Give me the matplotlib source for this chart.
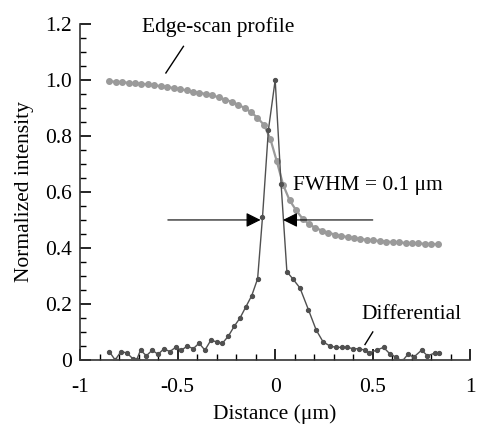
import matplotlib
matplotlib.use('Agg')
import matplotlib.pyplot as plt
from matplotlib.ticker import MultipleLocator

# Edge-scan profile (light gray)
edge_x = [-0.85, -0.817, -0.784, -0.751, -0.718, -0.685, -0.652, -0.619, -0.586, -0.553,
          -0.52, -0.487, -0.454, -0.421, -0.388, -0.355, -0.322, -0.289, -0.256, -0.223,
          -0.19, -0.157, -0.124, -0.091, -0.058, -0.025, 0.008, 0.041, 0.074, 0.107,
          0.14, 0.173, 0.206, 0.239, 0.272, 0.305, 0.338, 0.371, 0.404, 0.437,
          0.47, 0.503, 0.536, 0.569, 0.602, 0.635, 0.668, 0.701, 0.734, 0.767,
          0.8, 0.833]
edge_y = [0.995, 0.994, 0.992, 0.99, 0.988, 0.986, 0.984, 0.981, 0.978, 0.975,
          0.971, 0.967, 0.963, 0.958, 0.954, 0.95, 0.945, 0.938, 0.93, 0.922,
          0.912, 0.9, 0.885, 0.865, 0.84, 0.79, 0.71, 0.625, 0.57, 0.535,
          0.505, 0.485, 0.472, 0.462, 0.455, 0.448, 0.443, 0.439, 0.435, 0.432,
          0.429, 0.427, 0.425, 0.423, 0.421, 0.42, 0.418, 0.417, 0.416, 0.415,
          0.414, 0.413]

# Differential (dark gray)
diff_x = [-0.85, -0.82, -0.79, -0.76, -0.73, -0.71, -0.69, -0.66, -0.63, -0.6,
          -0.57, -0.54, -0.51, -0.48, -0.45, -0.42, -0.39, -0.36, -0.33, -0.3,
          -0.27, -0.24, -0.21, -0.18, -0.15, -0.12, -0.09, -0.065, -0.035, 0.0,
          0.03, 0.06, 0.09, 0.127, 0.17, 0.21, 0.245, 0.28, 0.31, 0.34,
          0.37, 0.4, 0.43, 0.46, 0.48, 0.52, 0.555, 0.59, 0.62, 0.65,
          0.68, 0.71, 0.75, 0.78, 0.82, 0.84]
diff_y = [0.03, 0.0, 0.03, 0.025, 0.005, 0.0, 0.035, 0.015, 0.035, 0.02,
          0.04, 0.03, 0.045, 0.035, 0.05, 0.04, 0.06, 0.035, 0.07, 0.065,
          0.06, 0.085, 0.12, 0.15, 0.19, 0.23, 0.29, 0.51, 0.82, 1.0,
          0.63, 0.315, 0.29, 0.257, 0.18, 0.107, 0.065, 0.05, 0.045, 0.045,
          0.045, 0.04, 0.04, 0.035, 0.025, 0.035, 0.045, 0.02, 0.01, -0.005,
          0.02, 0.01, 0.035, 0.015, 0.025, 0.025]

x_ticks = [-1, -0.5, 0, 0.5, 1]
x_labels = ['-1', '-0.5', '0', '0.5', '1']
y_ticks = [0, 0.2, 0.4, 0.6, 0.8, 1.0, 1.2]
y_labels = ['0', '0.2', '0.4', '0.6', '0.8', '1.0', '1.2']

plt.rcParams['font.family'] = ['Liberation Serif', 'DejaVu Serif']
fs = 15.5

fig = plt.figure(figsize=(4.79, 4.28), dpi=100)
ax = fig.add_axes([0.167, 0.159, 0.815, 0.785])

ax.plot(edge_x, edge_y, color='#9a9a9a', lw=1.6, marker='o', ms=4, mec='#9a9a9a', zorder=2)
ax.plot(diff_x, diff_y, color='#505050', lw=1.0, marker='o', ms=2.8, zorder=3)

# FWHM arrows
ax.annotate('', xy=(-0.075, 0.5), xytext=(-0.55, 0.5),
            arrowprops=dict(arrowstyle='-|>', color='black', lw=0.8, mutation_scale=22,
                            shrinkA=0, shrinkB=0))
ax.annotate('', xy=(0.04, 0.5), xytext=(0.5, 0.5),
            arrowprops=dict(arrowstyle='-|>', color='black', lw=0.8, mutation_scale=22,
                            shrinkA=0, shrinkB=0))

ax.text(0.475, 0.622, 'FWHM = 0.1 μm', ha='center', va='center', fontsize=fs)
ax.text(-0.29, 1.19, 'Edge-scan profile', ha='center', va='center', fontsize=fs)
ax.plot([-0.56, -0.47], [1.025, 1.12], color='black', lw=1)
ax.text(0.7, 0.162, 'Differential', ha='center', va='center', fontsize=fs)
ax.plot([0.46, 0.5], [0.055, 0.1], color='black', lw=1)

ax.set_xlim(-1, 1)
ax.set_ylim(0, 1.2)
ax.set_xticks(x_ticks)
ax.set_xticklabels(x_labels)
ax.set_yticks(y_ticks)
ax.set_yticklabels(y_labels)
ax.xaxis.set_minor_locator(MultipleLocator(0.1))
ax.yaxis.set_minor_locator(MultipleLocator(0.05))
ax.tick_params(which='major', direction='in', length=8, width=1.2, labelsize=fs)
ax.tick_params(which='minor', direction='in', length=4, width=1.0)
ax.tick_params(axis='x', which='major', pad=13)
ax.tick_params(axis='y', which='major', pad=6)

ax.spines['top'].set_visible(False)
ax.spines['right'].set_visible(False)
for side in ['left', 'bottom']:
    ax.spines[side].set_linewidth(1.2)
    ax.spines[side].set_color('#333333')

ax.set_xlabel('Distance (μm)', fontsize=fs, labelpad=5)
ax.set_ylabel('Normalized intensity', fontsize=fs, labelpad=8)

fig.savefig('out.png', dpi=100)
